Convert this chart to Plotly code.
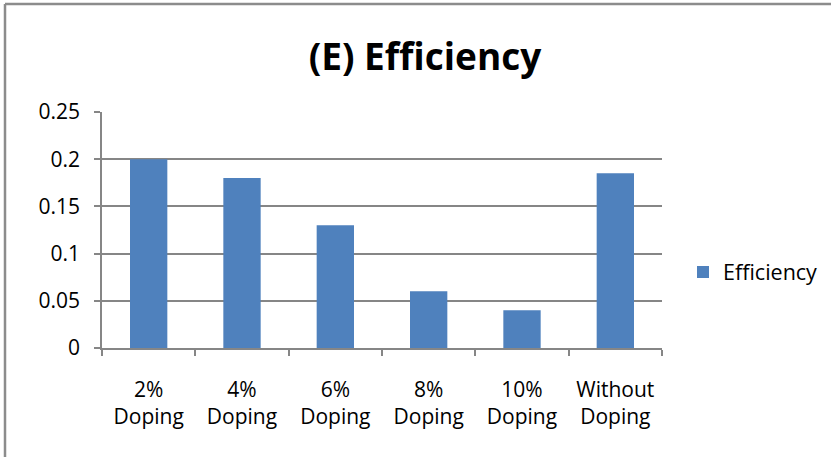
import plotly.graph_objects as go

# Efficiency by doping level
categories = ["2%<br>Doping", "4%<br>Doping", "6%<br>Doping", "8%<br>Doping",
              "10%<br>Doping", "Without<br>Doping"]
efficiency = [0.20, 0.18, 0.13, 0.06, 0.04, 0.185]
y_ticks = [0, 0.05, 0.1, 0.15, 0.2, 0.25]
y_tick_labels = ["0", "0.05", "0.1", "0.15", "0.2", "0.25"]

W, H = 831, 457
L, R, T, B = 102, 169, 112, 109
grid = "#868686"
font = "Open Sans, Calibri, sans-serif"


def px_to_paper(x, y):
    """Convert container pixel coords into paper coords of the plot area."""
    pw, ph = W - L - R, H - T - B
    return (x - L) / pw, (H - B - y) / ph


fig = go.Figure()
fig.add_trace(go.Bar(
    x=categories, y=efficiency, name="Efficiency",
    marker=dict(color="#4f81bd", line=dict(width=0)),
    showlegend=True,
))

# Outer chart frame (top and left edges)
x0, y0 = px_to_paper(5, 460)
x1, y1 = px_to_paper(5, 4)
x2, _ = px_to_paper(840, 4)
fig.add_shape(type="line", xref="paper", yref="paper", x0=x0, y0=y0, x1=x1, y1=y1,
              line=dict(color="#8c8c8c", width=2.5))
fig.add_shape(type="line", xref="paper", yref="paper", x0=x1, y0=y1, x1=x2, y1=y1,
              line=dict(color="#8c8c8c", width=2.5))

lx, ly = px_to_paper(683, 272)
fig.update_layout(
    width=W, height=H,
    margin=dict(l=L, r=R, t=T, b=B, pad=0, autoexpand=False),
    paper_bgcolor="white", plot_bgcolor="white",
    font=dict(family=font, size=21, color="black"),
    title=dict(text="<b>(E) Efficiency</b>", x=425 / W, xref="container",
               y=1 - 57 / H, yref="container", xanchor="center", yanchor="middle",
               font=dict(family=font, size=37, color="black")),
    bargap=0.6,
    legend=dict(x=lx, y=ly, xanchor="left", yanchor="middle",
                font=dict(family=font, size=21.5), itemwidth=30,
                bgcolor="rgba(0,0,0,0)"),
    xaxis=dict(showline=True, linecolor=grid, linewidth=1.5,
               ticks="outside", ticklen=6, tickcolor=grid, tickwidth=1.5,
               tickson="boundaries", showgrid=False, ticklabelstandoff=22),
    yaxis=dict(range=[0, 0.25], tickvals=y_ticks, ticktext=y_tick_labels,
               showline=True, linecolor=grid, linewidth=1.5,
               ticks="outside", ticklen=6, tickcolor=grid, tickwidth=1.5,
               showgrid=True, gridcolor=grid, gridwidth=1.5,
               zeroline=False, ticklabelstandoff=10),
)

fig.write_html("out.html")
